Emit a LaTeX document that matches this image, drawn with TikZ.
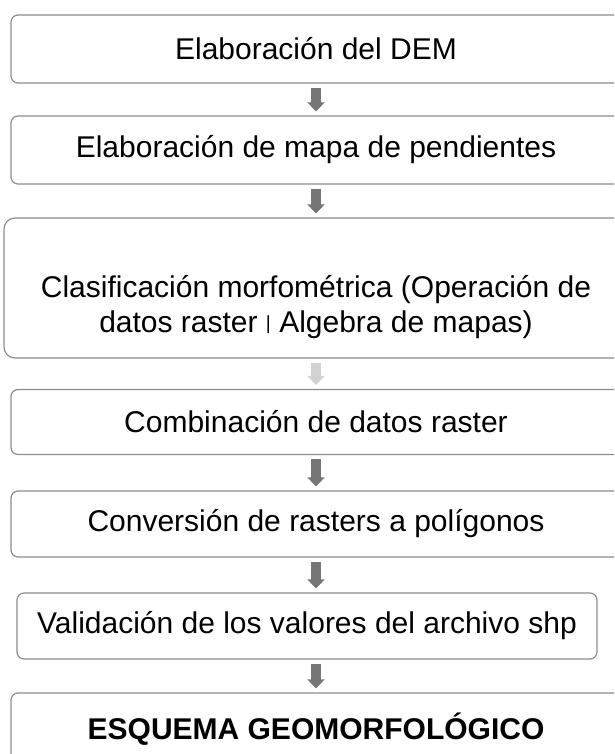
\documentclass[tikz,border=0pt]{standalone}
\usepackage{fontspec}
\setmainfont{Liberation Sans}
\usepackage{tikz}
\usetikzlibrary{arrows.meta,calc}
\definecolor{GeoEdge}{HTML}{8C8C8C}
\definecolor{GeoArrow}{HTML}{767676}
\definecolor{GeoPale}{HTML}{D2D2D2}
\tikzset{
  geobox/.style={
    rounded corners=7pt,
    draw=GeoEdge,
    line width=1.2pt,
    align=center,
    inner sep=0pt,
    font=\fontsize{30}{35}\selectfont
  },
  geoarrow/.style={
    -{Triangle[length=9pt,width=17pt]},
    line width=10pt,
    color=GeoArrow
  }
}

\begin{document}
\begin{tikzpicture}[x=1pt,y=-1pt]
  \clip (0,0) rectangle (614,754);
  \useasboundingbox (0,0) rectangle (614,754);

  \node[geobox,minimum width=610pt,minimum height=68pt] (dem) at (316,49)
    {Elaboración del DEM};
  \node[geobox,minimum width=610pt,minimum height=68pt] (slope) at (316,150)
    {Elaboración de mapa de pendientes};
  \node[geobox,rounded corners=11pt,minimum width=624pt,minimum height=140pt]
    (classif) at (316,288)
    {\strut\\Clasificación morfométrica (Operación de\\
     datos raster \raisebox{3pt}{\fontsize{19}{19}\selectfont|} Algebra de mapas)};
  \node[geobox,minimum width=610pt,minimum height=65pt] (combine) at (316,422)
    {Combinación de datos raster};
  \node[geobox,minimum width=610pt,minimum height=66pt] (convert) at (316,524)
    {Conversión de rasters a polígonos};
  \node[geobox,minimum width=580pt,minimum height=66pt] (valid) at (307,626)
    {Validación de los valores del archivo shp};
  \node[geobox,minimum width=610pt,minimum height=72pt,font=\fontsize{30}{35}\selectfont\bfseries]
    (scheme) at (316,729) {ESQUEMA GEOMORFOLÓGICO};

  \draw[geoarrow] ([yshift=-4pt]dem.south) -- ([yshift=4pt]slope.north);
  \draw[geoarrow] ([yshift=-4pt]slope.south) -- ([yshift=4pt]classif.north);
  \draw[geoarrow,color=GeoPale] ([yshift=-4pt]classif.south) -- ([yshift=4pt]combine.north);
  \draw[geoarrow] ([yshift=-4pt]combine.south) -- ([yshift=4pt]convert.north);
  \draw[geoarrow] ([yshift=-4pt]convert.south) -- ([yshift=4pt]convert.south |- valid.north);
  \draw[geoarrow] ([yshift=-4pt]convert.south |- valid.south) -- ([yshift=4pt]scheme.north);
\end{tikzpicture}
\end{document}
